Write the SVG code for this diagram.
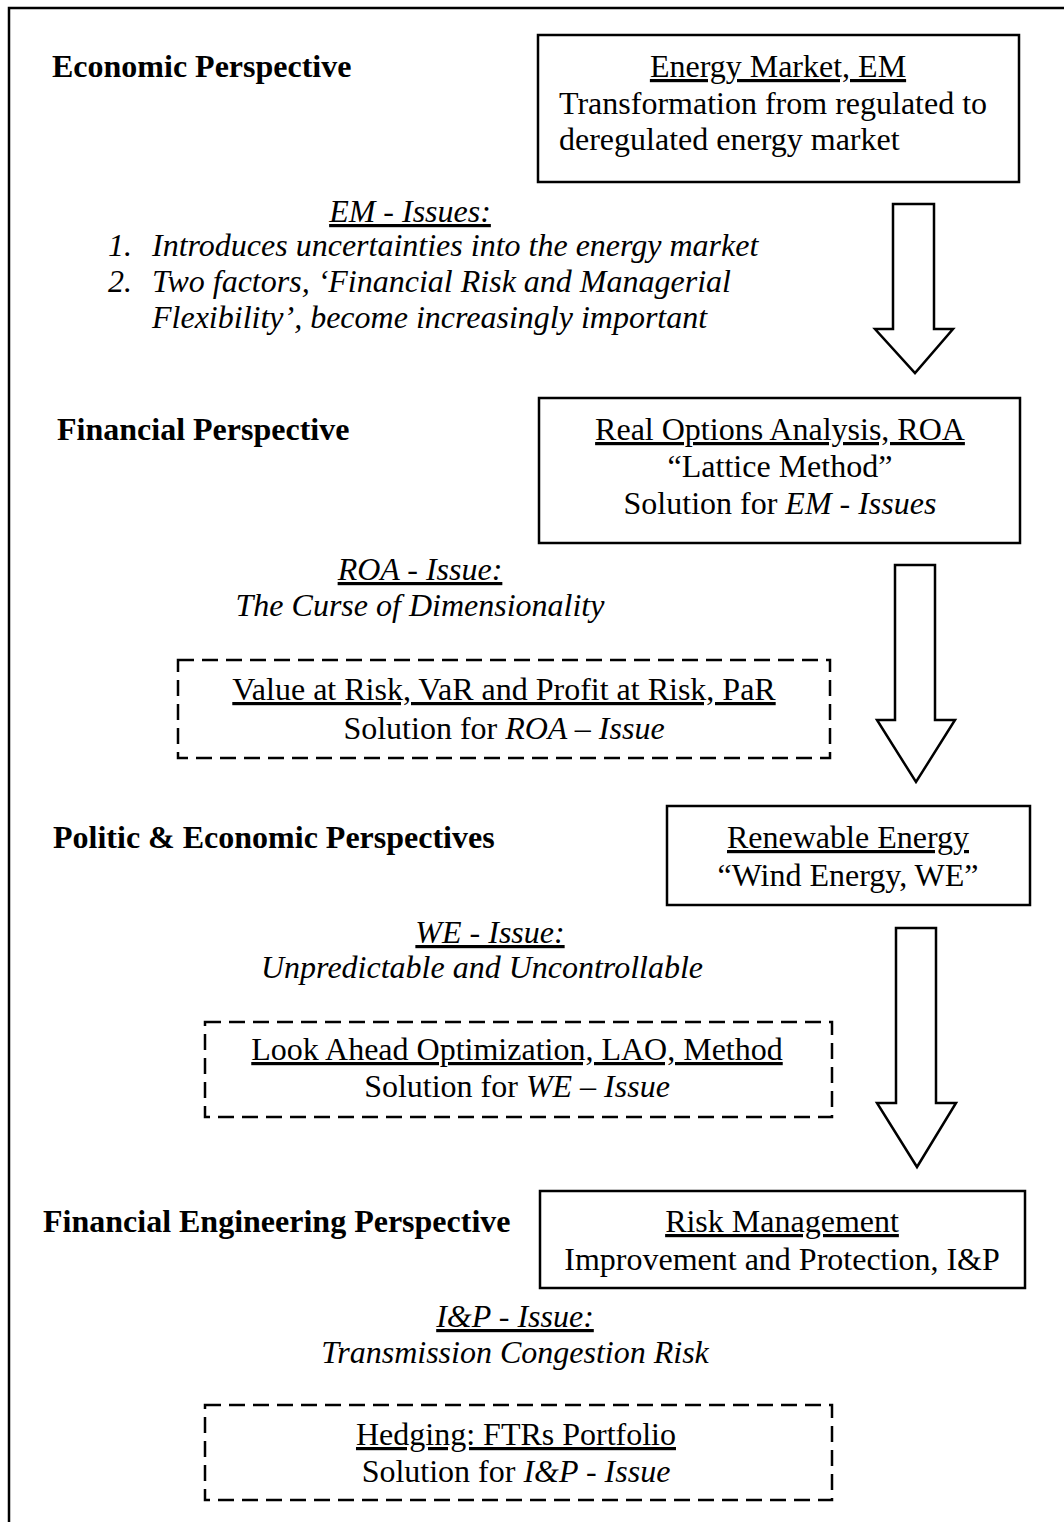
<svg xmlns="http://www.w3.org/2000/svg" width="1064" height="1522" viewBox="0 0 1064 1522">
<style>
text{font-family:"Liberation Serif","Times New Roman",serif;font-size:32px;fill:#000}
.h{font-weight:bold}
.c{text-anchor:middle}
.i{font-style:italic}
.u{text-decoration:underline}
.box{fill:none;stroke:#000;stroke-width:2.5}
.dash{fill:none;stroke:#000;stroke-width:2.5;stroke-dasharray:16 8}
.arrow{fill:#fff;stroke:#000;stroke-width:2.5;stroke-linejoin:miter}
</style>
<rect width="1064" height="1522" fill="#fff"/>
<path d="M9 1522 V8 H1064" fill="none" stroke="#000" stroke-width="2.5"/>

<g id="heading-economic"><text class="h" x="52" y="77">Economic Perspective</text></g>
<g id="node-em">
<rect class="box" x="538" y="35" width="481" height="147"/>
<text class="c u" x="778" y="77">Energy Market, EM</text>
<text x="559" y="114">Transformation from regulated to</text>
<text x="559" y="150">deregulated energy market</text>
</g>
<g id="em-issues">
<text class="c i u" x="410" y="222">EM - Issues:</text>
<text class="i" x="108" y="256">1.</text><text class="i" x="152" y="256">Introduces uncertainties into the energy market</text>
<text class="i" x="108" y="292">2.</text><text class="i" x="152" y="292">Two factors, ‘Financial Risk and Managerial</text>
<text class="i" x="152" y="328">Flexibility’, become increasingly important</text>
</g>

<g id="heading-financial"><text class="h" x="57" y="440">Financial Perspective</text></g>
<g id="node-roa">
<rect class="box" x="539" y="398" width="481" height="145"/>
<text class="c u" x="780" y="440">Real Options Analysis, ROA</text>
<text class="c" x="780" y="477">“Lattice Method”</text>
<text class="c" x="780" y="514">Solution for <tspan class="i">EM - Issues</tspan></text>
</g>
<g id="roa-issue">
<text class="c i u" x="420" y="580">ROA - Issue:</text>
<text class="c i" x="420" y="616">The Curse of Dimensionality</text>
</g>
<g id="node-var">
<rect class="dash" x="178" y="660" width="652" height="98"/>
<text class="c u" x="504" y="700">Value at Risk, VaR and Profit at Risk, PaR</text>
<text class="c" x="504" y="739">Solution for <tspan class="i">ROA – Issue</tspan></text>
</g>

<g id="heading-politic"><text class="h" x="53" y="848">Politic &amp; Economic Perspectives</text></g>
<g id="node-re">
<rect class="box" x="667" y="806" width="363" height="99"/>
<text class="c u" x="848" y="848">Renewable Energy</text>
<text class="c" x="848" y="886">“Wind Energy, WE”</text>
</g>
<g id="we-issue">
<text class="c i u" x="490" y="943">WE - Issue:</text>
<text class="c i" x="482" y="978">Unpredictable and Uncontrollable</text>
</g>
<g id="node-lao">
<rect class="dash" x="205" y="1022" width="627" height="95"/>
<text class="c u" x="517" y="1060">Look Ahead Optimization, LAO, Method</text>
<text class="c" x="517" y="1097">Solution for <tspan class="i">WE – Issue</tspan></text>
</g>

<g id="heading-fe"><text class="h" x="43" y="1232">Financial Engineering Perspective</text></g>
<g id="node-rm">
<rect class="box" x="540" y="1191" width="485" height="97"/>
<text class="c u" x="782" y="1232">Risk Management</text>
<text class="c" x="782" y="1270">Improvement and Protection, I&amp;P</text>
</g>
<g id="ip-issue">
<text class="c i u" x="515" y="1327">I&amp;P - Issue:</text>
<text class="c i" x="515" y="1363">Transmission Congestion Risk</text>
</g>
<g id="node-hedge">
<rect class="dash" x="205" y="1405" width="627" height="95"/>
<text class="c u" x="516" y="1445">Hedging: FTRs Portfolio</text>
<text class="c" x="516" y="1482">Solution for <tspan class="i">I&amp;P - Issue</tspan></text>
</g>

<g id="connectors">
<path class="arrow" d="M893 204 H934 V329 H953 L915 373 L875 329 H893 Z"/>
<path class="arrow" d="M895 565 H935 V720 H955 L916 782 L877 720 H895 Z"/>
<path class="arrow" d="M896 928 H936 V1103 H956 L917 1167 L877 1103 H896 Z"/>
</g>
</svg>
